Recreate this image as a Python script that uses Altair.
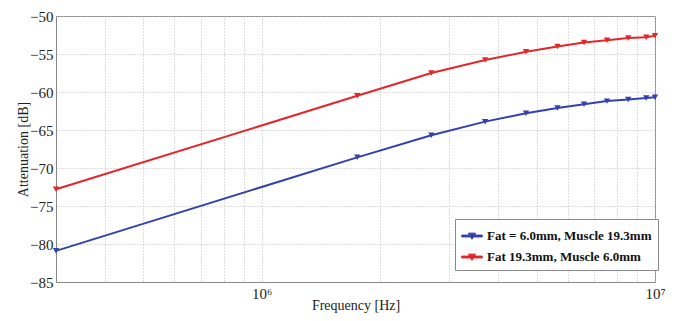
import altair as alt
import pandas as pd

freq = [3e5, 1.75e6, 2.7e6, 3.7e6, 4.7e6, 5.65e6, 6.6e6, 7.55e6, 8.55e6, 9.5e6, 1e7]
blue_vals = [-80.9, -68.6, -65.7, -63.9, -62.8, -62.1, -61.6, -61.2, -61.0, -60.8, -60.7]
red_vals = [-72.8, -60.5, -57.5, -55.8, -54.7, -54.0, -53.5, -53.2, -52.9, -52.8, -52.6]
series = ["Fat = 6.0mm, Muscle 19.3mm", "Fat 19.3mm, Muscle 6.0mm"]
colors = ["#3341ad", "#e3262b"]

x_grid = [4e5, 5e5, 6e5, 7e5, 8e5, 9e5, 1e6, 2e6, 3e6, 4e6, 5e6, 6e6, 7e6, 8e6, 9e6, 1e7]
y_ticks = [-85, -80, -75, -70, -65, -60, -55, -50]

rows = []
for f, b, r in zip(freq, blue_vals, red_vals):
    rows.append({"f": f, "v": b, "s": series[0]})
    rows.append({"f": f, "v": r, "s": series[1]})
df = pd.DataFrame(rows)

font = "Liberation Serif"

x = alt.X("f:Q", scale=alt.Scale(type="log", domain=[3e5, 1e7], nice=False),
          axis=alt.Axis(values=x_grid, title="Frequency [Hz]",
                        labelExpr="datum.value == 1000000 ? '10⁶' : (datum.value == 10000000 ? '10⁷' : '')",
                        labelFont=font, titleFont=font,
                        labelFlush=False, labelOverlap=False, ticks=False, labelPadding=4,
                        labelFontSize=15, titleFontSize=14, titleY=16, titleBaseline="top",
                        titleFontWeight="normal"))
y = alt.Y("v:Q", scale=alt.Scale(domain=[-85, -50], nice=False, zero=False),
          axis=alt.Axis(values=y_ticks, title="Attenuation [dB]", ticks=False,
                        labelFont=font, titleFont=font,
                        labelOverlap=False, labelFlush=False,
                        labelPadding=3, labelFontSize=15, titleFontSize=14,
                        titleFontWeight="normal", titleX=-26, titleBaseline="bottom"))
color = alt.Color("s:N", scale=alt.Scale(domain=series, range=colors),
                  legend=alt.Legend(title=None, orient="none", legendX=399, legendY=203,
                                    symbolType="M-1,-0.09H1V0.09H-1Z M-0.35,-0.28H0.35L0,0.32Z",
                                    symbolSize=420, symbolStrokeWidth=1,
                                    labelFont=font, labelFontSize=13, labelFontWeight="bold",
                                    labelColor="#111", labelLimit=400, rowPadding=3,
                                    strokeColor="#888", fillColor="white",
                                    padding=6, cornerRadius=0))

chart = alt.Chart(df).mark_line(
    strokeWidth=2,
    point=alt.OverlayMarkDef(shape="triangle-down", filled=True, size=40, opacity=1),
).encode(x=x, y=y, color=color).properties(
    width=599, height=266,
    autosize=alt.AutoSizeParams(type="none"),
    padding={"left": 48, "top": 8, "right": 15, "bottom": 36},
    background="white",
).configure_view(stroke="#888", strokeWidth=1).configure_axis(
    labelFont=font, titleFont=font, labelColor="#222", titleColor="#222",
    domainColor="#888", gridColor="#bbb", gridDash=[1, 2], gridWidth=1,
    labelFontSize=15, titleFontSize=14, labelOverlap=False,
)

chart.save("out.html", embed_options={"renderer": "svg", "actions": False})
